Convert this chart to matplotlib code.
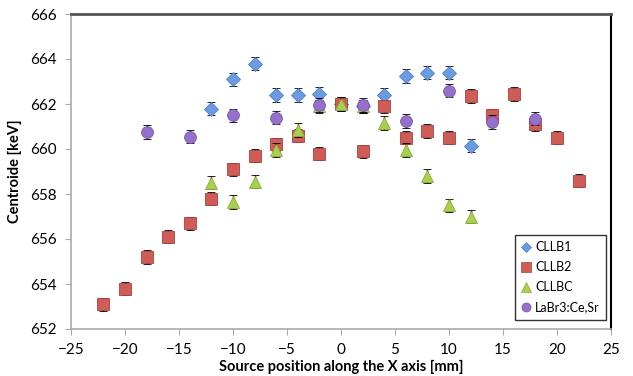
import matplotlib
matplotlib.use("Agg")
import matplotlib.pyplot as plt
from matplotlib.lines import Line2D

plt.rcParams['font.family'] = ['Lato', 'DejaVu Sans']

x_cllb1 = [-12, -10, -8, -6, -4, -2, 0, 2, 4, 6, 8, 10, 12]
y_cllb1 = [661.8, 663.1, 663.8, 662.4, 662.4, 662.45, 662.0, 661.9, 662.4, 663.25, 663.4, 663.4, 660.15]

x_cllb2 = [-22, -20, -18, -16, -14, -12, -10, -8, -6, -4, -2, 0, 2, 4, 6, 8, 10, 12, 14, 16, 18, 20, 22]
y_cllb2 = [653.1, 653.8, 655.2, 656.1, 656.7, 657.8, 659.1, 659.7, 660.2, 660.6, 659.8, 662.0, 659.9,
           661.9, 660.5, 660.8, 660.5, 662.35, 661.5, 662.45, 661.1, 660.5, 658.6]

x_cllbc = [-12, -10, -8, -6, -4, -2, 0, 2, 4, 6, 8, 10, 12]
y_cllbc = [658.5, 657.65, 658.55, 659.95, 660.85, 661.9, 662.0, 661.9, 661.15, 659.95, 658.8, 657.5, 657.0]

x_labr = [-18, -14, -10, -6, -2, 2, 6, 10, 14, 18]
y_labr = [660.75, 660.55, 661.5, 661.4, 661.95, 661.95, 661.25, 662.6, 661.2, 661.35]

err = 0.3

labels = ['CLLB1', 'CLLB2', 'CLLBC', 'LaBr3:Ce,Sr']
x_ticks = [-25, -20, -15, -10, -5, 0, 5, 10, 15, 20, 25]
y_ticks = [652, 654, 656, 658, 660, 662, 664, 666]

styles = [
    dict(marker='D', ms=7, fc='#6b9be0', ec='#4f7fc4', z=3, lms=5.5),
    dict(marker='s', ms=8, fc='#cf5c56', ec='#a8403b', z=3, lms=6.5),
    dict(marker='^', ms=9, fc='#a9cf4f', ec='#88ad36', z=4, lms=7),
    dict(marker='o', ms=8.5, fc='#9571cc', ec='#7455ab', z=5, lms=6.5),
]

fig = plt.figure(figsize=(6.33, 3.76), dpi=100)
ax = fig.add_axes([71/633, 1-329/376, 540/633, 315/376])

series = [(x_cllb1, y_cllb1), (x_cllb2, y_cllb2), (x_cllbc, y_cllbc), (x_labr, y_labr)]
handles = []
for (xs, ys), st, lab in zip(series, styles, labels):
    ax.errorbar(xs, ys, yerr=err, marker=st['marker'], markersize=st['ms'],
                markerfacecolor=st['fc'], markeredgecolor=st['ec'], markeredgewidth=0.6,
                ecolor='black', elinewidth=1.0, capsize=3, capthick=1.0, linestyle='none',
                zorder=st['z'])
    handles.append(Line2D([], [], linestyle='none', marker=st['marker'], markersize=st['lms'],
                          markerfacecolor=st['fc'], markeredgecolor=st['ec'], markeredgewidth=0.5,
                          label=lab))

ax.set_xlim(-25, 25)
ax.set_ylim(652, 666)
ax.set_xticks(x_ticks)
ax.set_yticks(y_ticks)
ax.tick_params(axis='both', direction='out', length=4, color='#aaaaaa', labelsize=11, pad=6)

ax.spines['left'].set_color('#aaaaaa')
ax.spines['bottom'].set_color('#aaaaaa')
ax.spines['left'].set_linewidth(1.2)
ax.spines['bottom'].set_linewidth(1.2)
ax.spines['top'].set_color('#555555')
ax.spines['top'].set_linewidth(2)
ax.spines['right'].set_color('black')
ax.spines['right'].set_linewidth(1.5)

ax.set_xlabel('Source position along the X axis [mm]', fontsize=10.5, fontweight='bold', labelpad=2)
ax.set_ylabel('Centroide [keV]', fontsize=10.5, fontweight='bold', labelpad=6)

leg = ax.legend(handles=handles, loc='lower right', bbox_to_anchor=(0.991, 0.029), fontsize=9,
                frameon=True, fancybox=False, edgecolor='black', handlelength=0.8,
                handletextpad=0.3, borderpad=0.5, labelspacing=0.65, borderaxespad=0)
leg.get_frame().set_linewidth(1.0)

fig.savefig('out.png', dpi=100)
